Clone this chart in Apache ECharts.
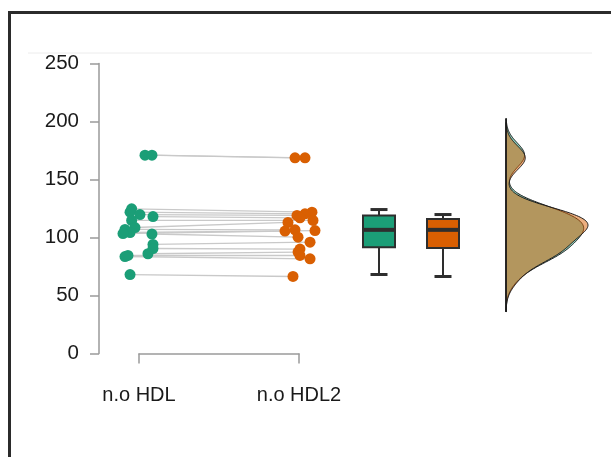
<!DOCTYPE html>
<html>
<head>
<meta charset="utf-8">
<script src="https://cdn.jsdelivr.net/npm/echarts@6/dist/echarts.min.js"></script>
<style>html,body{margin:0;padding:0;background:#fff}#c{width:611px;height:457px}</style>
</head>
<body>
<div id="c"></div>
<script>
// ---- data ----
var categories = ['n.o HDL', 'n.o HDL2'];
var yTicks = [0, 50, 100, 150, 200, 250];
var hdl1 = [171, 171, 124.7, 121.8, 119.8, 118, 114.7, 108.6, 107, 104.3, 103.4, 103, 94, 90.5, 86, 84.5, 83.6, 68];
var hdl2 = [168.7, 168.7, 121.8, 120.4, 119, 117, 114.7, 113, 106.6, 106, 105.5, 100.3, 96, 90, 87.4, 84.5, 81.6, 66.4];
var jitter1 = [0.0375, 0.081, -0.046, -0.056, 0.006, 0.0875, -0.046, -0.025, -0.0875, -0.056, -0.1, 0.081, 0.0875, 0.0875, 0.056, -0.069, -0.0875, -0.056];
var jitter2 = [-0.025, 0.0375, 0.081, 0.0375, -0.0125, 0.006, 0.0875, -0.069, -0.025, 0.1, -0.0875, -0.006, 0.069, 0.006, -0.006, 0.006, 0.069, -0.0375];
// box stats: [min, Q1, median, Q3, max]
var box1 = [68.1, 91.6, 106.6, 119, 124.1];
var box2 = [66.4, 91, 106.6, 116, 119.8];

var green = '#1b9e77', orange = '#d95f02';

function quantile(sorted, p) {
  var h = (sorted.length - 1) * p, lo = Math.floor(h), hi = Math.ceil(h);
  return sorted[lo] + (sorted[hi] - sorted[lo]) * (h - lo);
}
function kde(vals) {
  var n = vals.length, s = vals.slice().sort(function (a, b) { return a - b; });
  var mean = vals.reduce(function (a, b) { return a + b; }, 0) / n;
  var sd = Math.sqrt(vals.reduce(function (a, b) { return a + (b - mean) * (b - mean); }, 0) / (n - 1));
  var iqr = quantile(s, 0.75) - quantile(s, 0.25);
  var bw = 0.9 * Math.min(sd, iqr / 1.34) * Math.pow(n, -0.2);
  var lo = s[0] - 3 * bw, hi = s[n - 1] + 3 * bw, out = [];
  for (var i = 0; i <= 240; i++) {
    var y = lo + (hi - lo) * i / 240, d = 0;
    for (var j = 0; j < n; j++) { var z = (y - vals[j]) / bw; d += Math.exp(-0.5 * z * z); }
    out.push([d / (n * bw * Math.sqrt(2 * Math.PI)), y]);
  }
  return out;
}
var dens1 = kde(hdl1), dens2 = kde(hdl2);
var maxD = Math.max.apply(null, dens1.concat(dens2).map(function (p) { return p[0]; }));

var pairs = hdl1.map(function (v, i) { return [1 + jitter1[i], v, 2 + jitter2[i], hdl2[i]]; });
var pts1 = hdl1.map(function (v, i) { return [1 + jitter1[i], v]; });
var pts2 = hdl2.map(function (v, i) { return [2 + jitter2[i], v]; });
var boxPos = [2.5, 2.9];
var boxRows = [[boxPos[0]].concat(box1), [boxPos[1]].concat(box2)];

var gTop = 63.5, gH = 290;
var chart = echarts.init(document.getElementById('c'));
var axisGrey = '#9a9a9a';

function densSeries(curve, color) {
  return {
    type: 'custom', xAxisIndex: 2, yAxisIndex: 2, silent: true,
    data: [[0, curve[0][1]]],
    renderItem: function (params, api) {
      var p = [api.coord([0, curve[0][1]])];
      curve.forEach(function (c) { p.push(api.coord([c[0], c[1]])); });
      p.push(api.coord([0, curve[curve.length - 1][1]]));
      return { type: 'polygon', shape: { points: p },
        style: { fill: color, opacity: 1, stroke: '#1a1a1a', lineWidth: 1 } };
    }
  };
}

chart.setOption({
  animation: false,
  grid: [
    { left: 99, top: gTop, width: 480, height: gH },
    { left: 139, top: gTop, width: 160, height: gH },
    { left: 506, top: gTop, width: 100, height: gH }
  ],
  xAxis: [
    { gridIndex: 0, type: 'value', min: 0.75, max: 3.75, show: false },
    { gridIndex: 1, type: 'value', min: 1, max: 2, interval: 1, offset: 14,
      axisLine: { show: true, lineStyle: { color: axisGrey, width: 1.5 } },
      axisTick: { show: true, length: 10, lineStyle: { color: axisGrey, width: 1.5 } },
      splitLine: { show: false },
      axisLabel: { margin: 18, fontSize: 20, color: '#1a1a1a', fontFamily: 'Liberation Sans',
        formatter: function (v) { return categories[Math.round(v) - 1]; } } },
    { gridIndex: 2, type: 'value', min: 0, max: maxD * 100 / 82, show: false }
  ],
  yAxis: [
    { gridIndex: 0, type: 'value', min: yTicks[0], max: yTicks[yTicks.length - 1], interval: 50,
      axisLine: { show: true, lineStyle: { color: axisGrey, width: 1.5 } },
      axisTick: { show: true, length: 9, lineStyle: { color: axisGrey, width: 1.5 } },
      splitLine: { show: false },
      axisLabel: { margin: 20, fontSize: 20.5, color: '#1a1a1a', fontFamily: 'Liberation Sans' } },
    { gridIndex: 1, type: 'value', min: 0, max: 250, show: false },
    { gridIndex: 2, type: 'value', min: 0, max: 250, show: false }
  ],
  graphic: [
    { type: 'line', shape: { x1: 8, y1: 12.5, x2: 611, y2: 12.5 }, style: { stroke: '#2b2b2b', lineWidth: 3 } },
    { type: 'line', shape: { x1: 9.5, y1: 11, x2: 9.5, y2: 457 }, style: { stroke: '#2b2b2b', lineWidth: 3 } },
    { type: 'line', shape: { x1: 28, y1: 53, x2: 592, y2: 53 }, style: { stroke: '#ececec', lineWidth: 1 } }
  ],
  series: [
    { type: 'custom', xAxisIndex: 0, yAxisIndex: 0, silent: true, data: pairs,
      renderItem: function (params, api) {
        var a = api.coord([api.value(0), api.value(1)]), b = api.coord([api.value(2), api.value(3)]);
        return { type: 'line', shape: { x1: a[0], y1: a[1], x2: b[0], y2: b[1] },
          style: { stroke: '#c9c9c9', lineWidth: 1.3 } };
      } },
    { type: 'scatter', xAxisIndex: 0, yAxisIndex: 0, data: pts1, symbolSize: 11,
      itemStyle: { color: green, opacity: 1 } },
    { type: 'scatter', xAxisIndex: 0, yAxisIndex: 0, data: pts2, symbolSize: 11,
      itemStyle: { color: orange, opacity: 1 } },
    { type: 'custom', xAxisIndex: 0, yAxisIndex: 0, silent: true, data: boxRows,
      renderItem: function (params, api) {
        var x = api.value(0);
        var pMin = api.coord([x, api.value(1)]), pQ1 = api.coord([x, api.value(2)]),
            pMed = api.coord([x, api.value(3)]), pQ3 = api.coord([x, api.value(4)]),
            pMax = api.coord([x, api.value(5)]);
        var cx = pMin[0], hw = 16, cw = 8.5, ln = '#2e2e2e';
        var fill = params.dataIndex === 0 ? green : orange;
        return { type: 'group', children: [
          { type: 'line', shape: { x1: cx, y1: pQ1[1], x2: cx, y2: pMin[1] }, style: { stroke: ln, lineWidth: 2 } },
          { type: 'line', shape: { x1: cx, y1: pQ3[1], x2: cx, y2: pMax[1] }, style: { stroke: ln, lineWidth: 2 } },
          { type: 'line', shape: { x1: cx - cw, y1: pMin[1], x2: cx + cw, y2: pMin[1] }, style: { stroke: ln, lineWidth: 3 } },
          { type: 'line', shape: { x1: cx - cw, y1: pMax[1], x2: cx + cw, y2: pMax[1] }, style: { stroke: ln, lineWidth: 3 } },
          { type: 'rect', shape: { x: cx - hw, y: pQ3[1], width: 2 * hw, height: pQ1[1] - pQ3[1] },
            style: { fill: fill, stroke: ln, lineWidth: 2 } },
          { type: 'line', shape: { x1: cx - hw, y1: pMed[1], x2: cx + hw, y2: pMed[1] }, style: { stroke: ln, lineWidth: 4 } }
        ] };
      } },
    densSeries(dens1, 'rgba(27,158,119,0.5)'),
    densSeries(dens2, 'rgba(217,95,2,0.5)'),
    { type: 'custom', xAxisIndex: 2, yAxisIndex: 2, silent: true, data: [[0, 0]],
      renderItem: function (params, api) {
        var lo = Math.min(dens1[0][1], dens2[0][1]), hi = Math.max(dens1[dens1.length - 1][1], dens2[dens2.length - 1][1]);
        var a = api.coord([0, lo]), b = api.coord([0, hi]);
        return { type: 'line', shape: { x1: a[0], y1: a[1], x2: b[0], y2: b[1] }, style: { stroke: '#1a1a1a', lineWidth: 1.5 } };
      } }
  ]
});
</script>
</body>
</html>
